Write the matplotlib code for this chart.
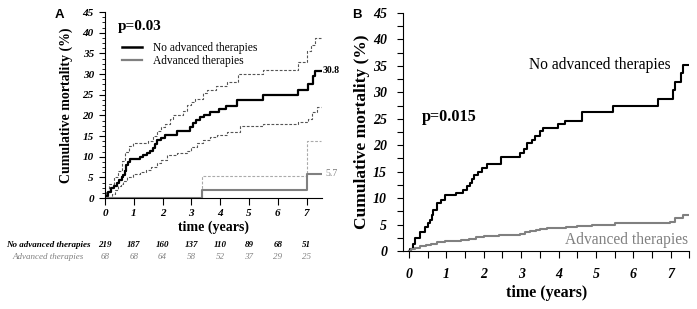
import matplotlib
matplotlib.use("Agg")
import matplotlib.pyplot as plt
from matplotlib.ticker import MultipleLocator
import matplotlib.transforms as mtrans

SERIF = "Liberation Serif"
SANS = "Liberation Sans"

# ---------------- Panel A data ----------------
a_no_t = [0, 0.05, 0.11, 0.2, 0.3, 0.4, 0.5, 0.58, 0.64, 0.68, 0.72, 0.8, 0.87, 1.2, 1.32, 1.45,
          1.56, 1.65, 1.74, 1.82, 1.95, 2.08, 2.5, 2.95, 3.05, 3.15, 3.3, 3.45, 3.65, 3.95, 4.2,
          4.6, 5.5, 6.7, 7.05, 7.22, 7.3, 7.5]
a_no_v = [0, 0.5, 1.5, 2.3, 3.0, 3.6, 4.3, 5.0, 5.6, 6.6, 8.0, 8.6, 9.4, 9.8, 10.3, 10.8,
          11.4, 12.2, 13.0, 14.0, 14.5, 15.2, 16.2, 17.2, 18.2, 18.9, 19.5, 20.2, 20.8, 21.5, 22.2,
          23.6, 24.8, 26.1, 27.6, 29.4, 30.8, 30.8]
a_no_up_t = [0, 0.05, 0.15, 0.3, 0.45, 0.6, 0.68, 0.85, 0.98, 1.5, 1.65, 1.8, 1.95, 2.08, 2.25,
             2.37, 2.7, 2.85, 3.0, 3.13, 3.4, 3.55, 3.85, 4.22, 4.63, 5.5, 6.69, 7.0, 7.15, 7.29, 7.5]
a_no_up_v = [0, 1.5, 3.5, 5.0, 6.5, 9.0, 11.2, 12.5, 13.2, 13.8, 15.0, 16.2, 17.2, 18.0, 19.0,
             20.0, 21.0, 22.5, 23.2, 24.0, 25.5, 26.2, 27.0, 28.0, 30.0, 31.0, 33.0, 35.5, 37.0, 38.7, 38.7]
a_no_lo_t = [0, 0.15, 0.25, 0.35, 0.45, 0.55, 0.64, 0.75, 0.98, 1.2, 1.44, 1.6, 1.79, 1.95, 2.14,
             2.5, 2.83, 3.0, 3.18, 3.4, 3.65, 3.9, 4.22, 4.69, 5.5, 6.69, 7.06, 7.2, 7.35, 7.5]
a_no_lo_v = [0, 0.3, 1.0, 1.9, 2.8, 3.5, 4.2, 5.0, 5.7, 6.2, 6.8, 7.6, 8.4, 9.3, 10.4,
             10.8, 11.4, 12.3, 13.2, 14.0, 14.8, 15.3, 16.0, 17.3, 18.0, 18.5, 19.2, 20.8, 22.0, 22.0]
a_adv_t = [0, 3.36, 7.02, 7.5]
a_adv_v = [0, 1.9, 5.7, 5.7]
a_adv_up_v = [0, 5.4, 13.7, 13.7]

risk_years = [0, 1, 2, 3, 4, 5, 6, 7]
risk_no = [219, 187, 160, 137, 110, 89, 68, 51]
risk_adv = [68, 68, 64, 58, 52, 37, 29, 25]

# ---------------- Panel B data ----------------
b_no_t = [0, 0.03, 0.1, 0.16, 0.29, 0.43, 0.5, 0.56, 0.62, 0.65, 0.74, 0.85, 0.96, 1.25, 1.45,
          1.54, 1.62, 1.68, 1.75, 1.85, 1.95, 2.09, 2.45, 2.97, 3.08, 3.15, 3.3, 3.37, 3.5, 3.59,
          3.99, 4.17, 4.62, 5.46, 6.67, 7.07, 7.12, 7.28, 7.32, 7.5]
b_no_v = [0, 0.4, 1.4, 2.4, 3.6, 4.5, 5.2, 5.9, 6.9, 7.8, 9.0, 9.6, 10.5, 11.0, 11.5,
          12.2, 12.8, 13.6, 14.3, 15.0, 15.6, 16.4, 17.8, 18.5, 19.3, 20.4, 21.0, 21.7, 22.6, 23.2,
          24.0, 24.6, 26.2, 27.4, 28.7, 30.4, 32.0, 33.6, 35.2, 35.2]
b_adv_t = [0, 0.05, 0.15, 0.3, 0.45, 0.6, 0.75, 0.95, 1.4, 1.6, 1.8, 2.0, 2.4, 2.6, 2.97, 3.1,
           3.24, 3.4, 3.5, 3.7, 3.95, 4.2, 4.48, 4.9, 5.5, 6.44, 6.98, 7.11, 7.33, 7.5]
b_adv_v = [0, 0.3, 0.6, 0.9, 1.1, 1.4, 1.7, 1.9, 2.1, 2.3, 2.6, 2.8, 3.0, 3.1, 3.3, 3.6,
           3.8, 4.0, 4.2, 4.3, 4.4, 4.6, 4.8, 5.0, 5.2, 5.35, 5.5, 6.3, 6.9, 6.9]

GRAY = "#808080"
W, H = 697, 309
fig = plt.figure(figsize=(W / 100, H / 100), dpi=100)


def frac_ax(left, right, top, bottom):
    return fig.add_axes([left / W, 1 - bottom / H, (right - left) / W, (bottom - top) / H])


# ================= Panel A =================
axA = frac_ax(105, 105 + 28.8 * 7.55, 12, 198)
axA.set_xlim(0, 7.55)
axA.set_ylim(0, 45)
axA.step(a_no_up_t, a_no_up_v, where="post", color="#555555", lw=0.8, ls=(0, (2.5, 1.5)))
axA.step(a_no_lo_t, a_no_lo_v, where="post", color="#555555", lw=0.8, ls=(0, (2.5, 1.5)))
axA.step(a_adv_t, a_adv_up_v, where="post", color="#aaaaaa", lw=0.8, ls=(0, (2.5, 1.5)))
axA.step(a_no_t, a_no_v, where="post", color="black", lw=1.6)
axA.step(a_adv_t, a_adv_v, where="post", color=GRAY, lw=1.5)
for s in ("top", "right"):
    axA.spines[s].set_visible(False)
axA.spines["left"].set_linewidth(0.8)
axA.spines["bottom"].set_linewidth(0.8)
axA.yaxis.set_major_locator(MultipleLocator(5))
axA.yaxis.set_minor_locator(MultipleLocator(1.25))
axA.set_xticks(risk_years)
axA.tick_params(axis="y", which="major", length=4, width=0.8, pad=4)
axA.tick_params(axis="y", which="minor", length=2.5, width=0.6)
axA.tick_params(axis="x", which="major", length=5, width=0.8, pad=3)
for lab in axA.get_xticklabels() + axA.get_yticklabels():
    lab.set_fontfamily(SERIF)
    lab.set_fontweight("bold")
    lab.set_fontstyle("italic")
    lab.set_fontsize(8)
axA.set_xlabel("time (years)", fontfamily=SERIF, fontweight="bold", fontsize=10, labelpad=2)
axA.set_ylabel("Cumulative mortality (%)", fontfamily=SERIF, fontweight="bold", fontsize=10, labelpad=7)
axA.text(0.43, 41.5, "p=0.03", fontfamily=SERIF, fontweight="bold", fontsize=11, va="center")
# legend
axA.plot([0.6, 1.3], [36.5, 36.5], color="black", lw=1.8)
axA.plot([0.6, 1.3], [33.3, 33.3], color=GRAY, lw=1.6)
axA.text(1.67, 36.3, "No advanced therapies", fontfamily=SERIF, fontsize=8.3, va="center")
axA.text(1.67, 33.1, "Advanced therapies", fontfamily=SERIF, fontsize=8.3, va="center")
axA.text(7.55, a_no_v[-1], "30.8", fontfamily=SERIF, fontweight="bold", fontsize=7, va="center")
axA.text(7.65, a_adv_v[-1] + 0.3, "5.7", fontfamily=SERIF, fontsize=7, va="center", color=GRAY)
fig.text(55 / W, 1 - 15 / H, "A", fontfamily=SANS, fontweight="bold", fontsize=9.5, va="center")

# risk table
trA = mtrans.blended_transform_factory(axA.transData, fig.transFigure)
y1 = 1 - 245 / H
y2 = 1 - 257 / H
for x, n1, n2 in zip(risk_years, risk_no, risk_adv):
    fig.text(x, y1, str(n1), transform=trA, ha="center", va="center", fontfamily=SERIF,
             fontweight="bold", fontstyle="italic", fontsize=6.5)
    fig.text(x, y2, str(n2), transform=trA, ha="center", va="center", fontfamily=SERIF,
             fontstyle="italic", fontsize=6.5, color=GRAY)
fig.text(48 / W, y1, "No advanced therapies", ha="center", va="center", fontfamily=SERIF,
         fontweight="bold", fontstyle="italic", fontsize=6.5)
fig.text(48 / W, y2, "Advanced therapies", ha="center", va="center", fontfamily=SERIF,
         fontstyle="italic", fontsize=6.5, color=GRAY)

# ================= Panel B =================
axB = frac_ax(403, 403 + 37.4 * 7.66, 13, 251)
axB.set_xlim(-0.16, 7.5)
axB.set_ylim(0, 45)
axB.step(b_no_t, b_no_v, where="post", color="black", lw=1.5)
axB.step(b_adv_t, b_adv_v, where="post", color=GRAY, lw=1.5)
for s in ("top", "right"):
    axB.spines[s].set_visible(False)
axB.spines["left"].set_linewidth(0.8)
axB.spines["bottom"].set_linewidth(0.8)
axB.yaxis.set_major_locator(MultipleLocator(5))
axB.yaxis.set_minor_locator(MultipleLocator(2.5))
axB.set_xticks(risk_years)
axB.xaxis.set_minor_locator(MultipleLocator(0.5))
axB.tick_params(axis="y", which="both", length=4.5, width=0.8, pad=7)
axB.tick_params(axis="x", which="both", length=5, width=0.8, pad=7)
for lab in axB.get_xticklabels() + axB.get_yticklabels():
    lab.set_fontfamily(SERIF)
    lab.set_fontweight("bold")
    lab.set_fontstyle("italic")
    lab.set_fontsize(10)
axB.set_xlabel("time (years)", fontfamily=SERIF, fontweight="bold", fontsize=11.5, labelpad=3)
axB.set_ylabel("Cumulative mortality (%)", fontfamily=SERIF, fontweight="bold", fontsize=12.5,
               labelpad=2)
axB.text(0.35, 25.3, "p=0.015", fontfamily=SERIF, fontweight="bold", fontsize=11.7, va="center")
axB.text(3.2, 35.2, "No advanced therapies", fontfamily=SERIF, fontsize=11.2, va="center")
axB.text(7.45, 2.1, "Advanced therapies", fontfamily=SERIF, fontsize=11.2, va="center",
         ha="right", color=GRAY)
fig.text(352 / W, 1 - 15 / H, "B", fontfamily=SANS, fontweight="bold", fontsize=9.5, va="center")

fig.savefig("out.png", dpi=100)
